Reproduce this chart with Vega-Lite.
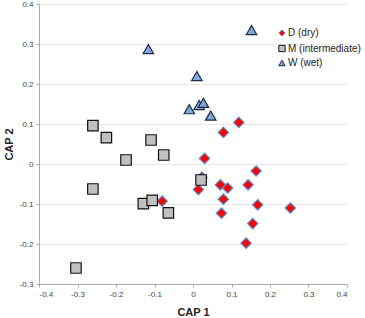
{
  "$schema": "https://vega.github.io/schema/vega-lite/v6.json",
  "autosize": "none",
  "width": 308,
  "height": 280,
  "padding": {"left": 39, "top": 4, "right": 18, "bottom": 34},
  "background": "white",
  "config": {
    "view": {"stroke": null},
    "font": "Liberation Sans",
    "legend": {
      "orient": "none", "legendX": 238, "legendY": 24,
      "labelFontSize": 10, "labelColor": "#222", "rowPadding": 3.5, "labelOffset": 1,
      "symbolStrokeWidth": 1, "symbolSize": 40
    }
  },
  "data": {
    "values": [
      {"group": "D (dry)", "cap1": 0.119, "cap2": 0.104},
      {"group": "D (dry)", "cap1": 0.079, "cap2": 0.079},
      {"group": "D (dry)", "cap1": 0.030, "cap2": 0.014},
      {"group": "D (dry)", "cap1": 0.164, "cap2": -0.0175},
      {"group": "D (dry)", "cap1": 0.023, "cap2": -0.033},
      {"group": "D (dry)", "cap1": 0.071, "cap2": -0.052},
      {"group": "D (dry)", "cap1": 0.090, "cap2": -0.060},
      {"group": "D (dry)", "cap1": 0.143, "cap2": -0.052},
      {"group": "D (dry)", "cap1": 0.014, "cap2": -0.064},
      {"group": "D (dry)", "cap1": 0.079, "cap2": -0.088},
      {"group": "D (dry)", "cap1": -0.080, "cap2": -0.093},
      {"group": "D (dry)", "cap1": 0.168, "cap2": -0.102},
      {"group": "D (dry)", "cap1": 0.253, "cap2": -0.110},
      {"group": "D (dry)", "cap1": 0.074, "cap2": -0.123},
      {"group": "D (dry)", "cap1": 0.155, "cap2": -0.149},
      {"group": "D (dry)", "cap1": 0.138, "cap2": -0.198},
      {"group": "M (intermediate)", "cap1": -0.260, "cap2": 0.096},
      {"group": "M (intermediate)", "cap1": -0.225, "cap2": 0.066},
      {"group": "M (intermediate)", "cap1": -0.109, "cap2": 0.060},
      {"group": "M (intermediate)", "cap1": -0.076, "cap2": 0.0225},
      {"group": "M (intermediate)", "cap1": -0.174, "cap2": 0.010},
      {"group": "M (intermediate)", "cap1": -0.260, "cap2": -0.0625},
      {"group": "M (intermediate)", "cap1": 0.021, "cap2": -0.040},
      {"group": "M (intermediate)", "cap1": -0.129, "cap2": -0.099},
      {"group": "M (intermediate)", "cap1": -0.106, "cap2": -0.091},
      {"group": "M (intermediate)", "cap1": -0.064, "cap2": -0.122},
      {"group": "M (intermediate)", "cap1": -0.304, "cap2": -0.260},
      {"group": "W (wet)", "cap1": 0.152, "cap2": 0.335},
      {"group": "W (wet)", "cap1": -0.116, "cap2": 0.2875},
      {"group": "W (wet)", "cap1": 0.010, "cap2": 0.220},
      {"group": "W (wet)", "cap1": -0.0096, "cap2": 0.137},
      {"group": "W (wet)", "cap1": 0.016, "cap2": 0.1475},
      {"group": "W (wet)", "cap1": 0.027, "cap2": 0.153},
      {"group": "W (wet)", "cap1": 0.046, "cap2": 0.121}
    ]
  },
  "mark": {"type": "point", "filled": true, "opacity": 1, "strokeWidth": 1.2},
  "encoding": {
    "x": {
      "field": "cap1", "type": "quantitative",
      "scale": {"domain": [-0.4, 0.4], "nice": false, "zero": false},
      "axis": {
        "title": "CAP 1", "titleFontSize": 11, "titleFontWeight": "bold", "titleColor": "#222",
        "titlePadding": 8,
        "values": [-0.4, -0.3, -0.2, -0.1, 0, 0.1, 0.2, 0.3, 0.4],
        "labelExpr": "toString(round(datum.value*10)/10)",
        "labelFontSize": 8, "labelColor": "#444",
        "grid": false, "domainColor": "#aaa", "tickColor": "#aaa", "tickSize": 3, "labelPadding": 3
      }
    },
    "y": {
      "field": "cap2", "type": "quantitative",
      "scale": {"domain": [-0.3, 0.4], "nice": false, "zero": false},
      "axis": {
        "title": "CAP 2", "titleFontSize": 11, "titleFontWeight": "bold", "titleColor": "#222",
        "titlePadding": 5,
        "values": [-0.3, -0.2, -0.1, 0, 0.1, 0.2, 0.3, 0.4],
        "labelExpr": "toString(round(datum.value*10)/10)",
        "labelFontSize": 8, "labelColor": "#444",
        "grid": true, "gridColor": "#dddddd", "gridDash": [2, 1],
        "domainColor": "#aaa", "tickColor": "#aaa", "tickSize": 3, "labelPadding": 3
      }
    },
    "size": {"value": 110},
    "shape": {
      "field": "group", "type": "nominal",
      "scale": {"domain": ["D (dry)", "M (intermediate)", "W (wet)"], "range": ["diamond", "square", "triangle-up"]},
      "legend": {"title": null, "symbolSize": 40}
    },
    "fill": {
      "field": "group", "type": "nominal",
      "scale": {"domain": ["D (dry)", "M (intermediate)", "W (wet)"], "range": ["#ff0000", "#c0c0c0", "#7ea6d8"]},
      "legend": {"title": null, "symbolSize": 40}
    },
    "stroke": {
      "field": "group", "type": "nominal",
      "scale": {"domain": ["D (dry)", "M (intermediate)", "W (wet)"], "range": ["#5b8fd0", "#111111", "#1c2a44"]},
      "legend": {"title": null, "symbolSize": 40}
    }
  }
}
